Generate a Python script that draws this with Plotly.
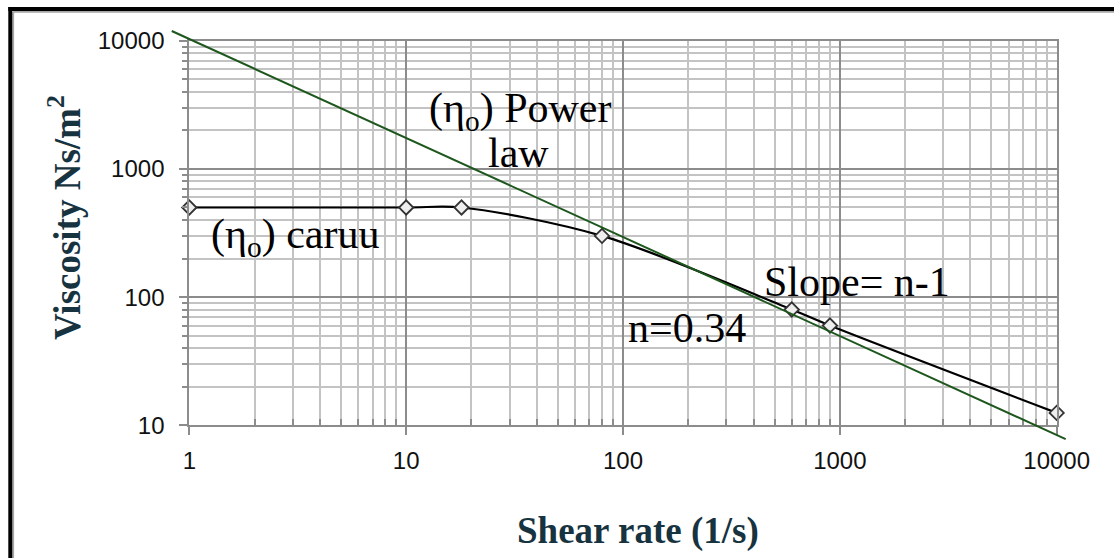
import plotly.graph_objects as go

# ---- data ----
shear_rate = [1, 10, 18, 80, 600, 900, 10000]
viscosity = [500, 500, 500, 300, 80, 60, 12.5]

power_law_x = [0.83, 11000]
power_law_y = [11900, 7.8]

x_tick_vals = [1, 10, 100, 1000, 10000]
x_tick_text = ["1", "10", "100", "1000", "10000"]
y_tick_vals = [10, 100, 1000, 10000]
y_tick_text = ["10", "100", "1000", "10000"]
minor_steps = [2, 3, 4, 5, 6, 7, 8, 9]

x_minor_vals = [d * m for d in x_tick_vals[:-1] for m in minor_steps]
y_minor_vals = [d * m for d in y_tick_vals[:-1] for m in minor_steps]

# ---- layout geometry (pixels) ----
W, H = 1114, 558
PX_L, PX_R = 189.3, 1056.7
PX_T, PX_B = 40.7, 425.3
XR = [0, 4]      # log10 range of x
YR = [1, 4]      # log10 range of y

xdom = [PX_L / W, PX_R / W]
ydom = [1 - PX_B / H, 1 - PX_T / H]

# extended axes (same mapping, full-page domain) so the power-law line can run past the frame
xs = (XR[1] - XR[0]) / (PX_R - PX_L)
ys = (YR[1] - YR[0]) / (PX_B - PX_T)
x2r = [XR[0] - PX_L * xs, XR[1] + (W - PX_R) * xs]
y2r = [YR[0] - (H - PX_B) * ys, YR[1] + PX_T * ys]

fig = go.Figure()

fig.add_trace(go.Scatter(
    x=power_law_x, y=power_law_y, mode="lines",
    line=dict(color="#1d571d", width=2),
    xaxis="x2", yaxis="y2", hoverinfo="skip", showlegend=False,
))

fig.add_trace(go.Scatter(
    x=shear_rate, y=viscosity, mode="lines+markers",
    line=dict(color="#000000", width=2.2, shape="spline", smoothing=0.9),
    marker=dict(symbol="diamond", size=11, color="#eeeeee",
                line=dict(color="#333333", width=1.8)),
    xaxis="x3", yaxis="y3", showlegend=False, cliponaxis=False,
))

grid_major = "#8c8c8c"
grid_minor = "#c3c3c3"
tick_font = dict(family="Liberation Sans, Arial, sans-serif", size=24, color="#111111")

fig.update_layout(
    width=W, height=H,
    margin=dict(l=0, r=0, t=0, b=0),
    paper_bgcolor="white", plot_bgcolor="rgba(0,0,0,0)",
    # minor grid axes
    xaxis=dict(
        type="log", range=XR, domain=xdom, anchor="y",
        tickmode="array", tickvals=x_minor_vals, ticktext=[""] * len(x_minor_vals),
        ticks="inside", ticklen=6, tickwidth=1.5, tickcolor=grid_major,
        showgrid=True, gridcolor=grid_minor, gridwidth=1.6,
        showline=False, zeroline=False, automargin=False,
    ),
    yaxis=dict(
        type="log", range=YR, domain=ydom, anchor="x",
        tickmode="array", tickvals=y_minor_vals, ticktext=[""] * len(y_minor_vals),
        ticks="outside", ticklen=6, tickwidth=1.5, tickcolor=grid_major,
        showgrid=True, gridcolor=grid_minor, gridwidth=1.6,
        showline=False, zeroline=False, automargin=False,
    ),
    # major axes with labels
    xaxis3=dict(
        type="log", range=XR, domain=xdom, anchor="y3", overlaying="x",
        tickmode="array", tickvals=x_tick_vals, ticktext=x_tick_text,
        ticks="outside", ticklen=8, tickwidth=1.5, tickcolor=grid_major,
        showline=True, linecolor=grid_major, linewidth=2, mirror=True,
        showgrid=True, gridcolor=grid_major, gridwidth=1.6,
        tickfont=tick_font, ticklabelstandoff=5, zeroline=False,
        automargin=False, side="bottom",
    ),
    yaxis3=dict(
        type="log", range=YR, domain=ydom, anchor="x3", overlaying="y",
        tickmode="array", tickvals=y_tick_vals, ticktext=y_tick_text,
        ticks="outside", ticklen=8, tickwidth=1.5, tickcolor=grid_major,
        showline=True, linecolor=grid_major, linewidth=2, mirror=True,
        showgrid=True, gridcolor=grid_major, gridwidth=1.6,
        tickfont=tick_font, ticklabelstandoff=10, zeroline=False,
        automargin=False, side="left",
    ),
    xaxis2=dict(type="log", range=x2r, domain=[0, 1], anchor="y2",
                visible=False, showgrid=False, zeroline=False),
    yaxis2=dict(type="log", range=y2r, domain=[0, 1], anchor="x2",
                visible=False, showgrid=False, zeroline=False),
)

serif = "Liberation Serif, Times New Roman, serif"
ann_font = dict(family=serif, size=42, color="#000000")
title_font = dict(family=serif, size=37, color="#17333f")

annotations = [
    dict(text="(η<sub>o</sub>) Power", x=1.526, y=3.455, font=ann_font),
    dict(text="law", x=1.517, y=3.125, font=ann_font),
    dict(text="(η<sub>o</sub>) caruu", x=0.486, y=2.47, font=ann_font),
    dict(text="Slope= n-1", x=3.077, y=2.12, font=ann_font),
    dict(text="n=0.34", x=2.296, y=1.76, font=ann_font),
]
for a in annotations:
    fig.add_annotation(xref="x", yref="y", showarrow=False,
                       xanchor="center", yanchor="middle", **a)

fig.add_annotation(text="<b>Viscosity Ns/m<sup>2</sup></b>", xref="paper", yref="paper",
                   x=64 / W, y=1 - 218 / H, textangle=-90, showarrow=False,
                   xanchor="center", yanchor="middle", font=title_font)
fig.add_annotation(text="<b>Shear rate (1/s)</b>", xref="paper", yref="paper",
                   x=638 / W, y=1 - 531 / H, showarrow=False,
                   xanchor="center", yanchor="middle", font=title_font)

# page frame (left and top edges visible)
frame = [
    dict(x0=13.2 / W, x1=13.2 / W, y0=-0.1, y1=1 - 11.8 / H, color="#a6a6a6", width=1.8),
    dict(x0=13.2 / W, x1=1.1, y0=1 - 11.8 / H, y1=1 - 11.8 / H, color="#a6a6a6", width=1.8),
    dict(x0=10.3 / W, x1=10.3 / W, y0=-0.1, y1=1 - 7.0 / H, color="#000000", width=4),
    dict(x0=8.3 / W, x1=1.1, y0=1 - 8.9 / H, y1=1 - 8.9 / H, color="#000000", width=4),
]
for f in frame:
    fig.add_shape(type="line", xref="paper", yref="paper",
                  x0=f["x0"], x1=f["x1"], y0=f["y0"], y1=f["y1"],
                  line=dict(color=f["color"], width=f["width"]))

fig.write_html("out.html")
